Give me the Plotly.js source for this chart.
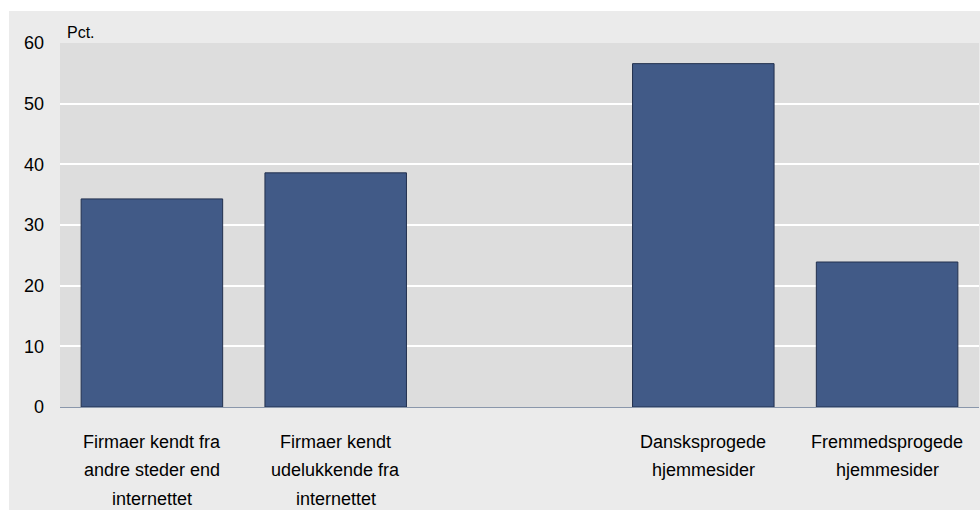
<!DOCTYPE html>
<html>
<head>
<meta charset="utf-8">
<script src="https://cdn.plot.ly/plotly-3.0.1.min.js"></script>
<style>
  html, body { margin: 0; padding: 0; background: #ffffff; width: 980px; height: 510px; overflow: hidden; }
  #chart { position: absolute; left: 9px; top: 11px; width: 971px; height: 499px; }
</style>
</head>
<body>
<div id="chart"></div>
<script>
// Data
const categories = ["Firmaer kendt fra andre steder end internettet",
                    "Firmaer kendt udelukkende fra internettet",
                    " ",
                    "Dansksprogede hjemmesider",
                    "Fremmedsprogede hjemmesider"];
const labelLines = [["Firmaer kendt fra", "andre steder end", "internettet"],
                    ["Firmaer kendt", "udelukkende fra", "internettet"],
                    [],
                    ["Dansksprogede", "hjemmesider"],
                    ["Fremmedsprogede", "hjemmesider"]];
const values = [34.3, 38.6, null, 56.6, 23.9];
const yTicks = [0, 10, 20, 30, 40, 50, 60];
const unitLabel = "Pct.";

const font = "Liberation Sans, Arial, sans-serif";

const annotations = [];
categories.forEach((c, i) => {
  labelLines[i].forEach((line, j) => {
    annotations.push({
      x: c, xref: "x", y: 0, yref: "paper",
      yanchor: "middle", xanchor: "center",
      yshift: -35 - 28.3 * j,
      text: line, showarrow: false,
      font: { family: font, size: 18, color: "#000000" }
    });
  });
});
annotations.push({
  x: 0, xref: "paper", y: 1, yref: "paper",
  xanchor: "left", yanchor: "middle", xshift: 5, yshift: 11,
  text: unitLabel, showarrow: false,
  font: { family: font, size: 16, color: "#000000" }
});

const trace = {
  type: "bar",
  x: categories,
  y: values,
  marker: { color: "#415a87", line: { color: "#22304e", width: 1 } },
  hoverinfo: "skip"
};

const layout = {
  width: 971, height: 499,
  margin: { l: 51, r: 1, t: 32, b: 103 },
  paper_bgcolor: "#ebebeb",
  plot_bgcolor: "#dddddd",
  bargap: 0.23,
  showlegend: false,
  font: { family: font, size: 17, color: "#000000" },
  xaxis: {
    type: "category",
    categoryorder: "array",
    categoryarray: categories,
    showticklabels: false,
    showgrid: false,
    zeroline: false,
    showline: true,
    linecolor: "#8a97ab",
    linewidth: 1,
    ticks: ""
  },
  yaxis: {
    range: [0, 60],
    tickvals: yTicks,
    ticktext: yTicks.map(String),
    showgrid: true,
    gridcolor: "#ffffff",
    gridwidth: 2,
    zeroline: false,
    showline: false,
    ticks: "",
    ticklabelstandoff: 15,
    tickfont: { family: font, size: 18, color: "#000000" }
  },
  annotations: annotations
};

Plotly.newPlot("chart", [trace], layout, { displayModeBar: false, staticPlot: true });
</script>
</body>
</html>
